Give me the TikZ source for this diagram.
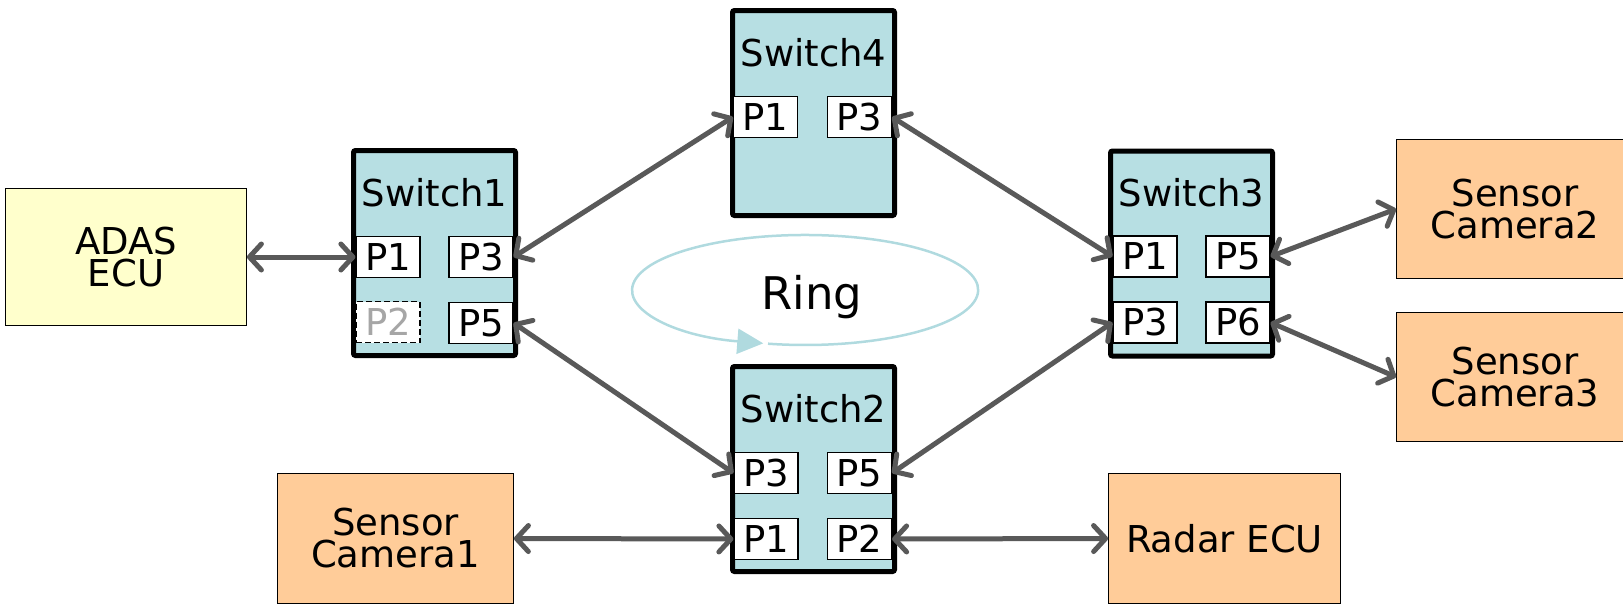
\documentclass[tikz,border=0pt]{standalone}
\usepackage{fontspec}
\setmainfont{DejaVu Sans}
\usetikzlibrary{arrows.meta,calc}
\definecolor{swfill}{RGB}{183,223,227}
\definecolor{sensorfill}{RGB}{255,204,153}
\definecolor{ecufill}{RGB}{255,255,204}
\definecolor{linkgray}{RGB}{89,89,89}
\definecolor{ringcol}{RGB}{176,218,223}
\definecolor{portgray}{RGB}{166,166,166}

\begin{document}
\begin{tikzpicture}[x=1pt,y=-1pt,
  txt/.style={font=\fontsize{37}{32}\selectfont},
  switchbox/.style={draw=black, line width=5pt, fill=swfill, rounded corners=2pt,
    minimum width=162pt, minimum height=205pt, inner sep=0pt},
  title/.style={txt, anchor=base, inner sep=0pt},
  port/.style={txt, draw=black, line width=1.2pt, fill=white,
    minimum width=64pt, minimum height=41pt, inner sep=0pt},
  deadport/.style={port, dash pattern=on 6pt off 3pt, text=portgray},
  device/.style={txt, draw=black, line width=1.3pt, align=center, inner sep=0pt},
  sensor/.style={device, fill=sensorfill},
  ecu/.style={device, fill=ecufill},
  barb/.tip={Straight Barb[length=12pt,width=26pt,round]},
  link/.style={draw=linkgray, line width=5pt, barb-barb},
  ringline/.style={draw=ringcol, line width=2.5pt}
]
\useasboundingbox (0,0) rectangle (1623,605);
\clip (0,0) rectangle (1623,605);

% end devices
\node[ecu, minimum width=240.5pt, minimum height=136.5pt] (adas) at (126,257) {ADAS\\ECU};
\node[sensor, minimum width=235.5pt, minimum height=129.5pt] (cam1) at (395.5,538.5) {Sensor\\Camera1};
\node[sensor, minimum width=231.5pt, minimum height=129.5pt] (radar) at (1224.5,538.5) {Radar ECU};
\node[sensor, minimum width=236.5pt, minimum height=138.5pt] (cam2) at (1515,209) {Sensor\\Camera2};
\node[sensor, minimum width=236.5pt, minimum height=128.5pt] (cam3) at (1515,377) {Sensor\\Camera3};

% switches with their ports
\node[switchbox] (s1) at (434.5,253) {};
\node[title] at ($(s1.north)+(0,58)$) {Switch1};
\node[port]     (s1p1) at ($(s1.north)+(-46.5,109)$) {P1};
\node[port]     (s1p3) at ($(s1.north)+(46.5,109)$) {P3};
\node[deadport] (s1p2) at ($(s1.north)+(-46.5,174)$) {P2};
\node[port]     (s1p5) at ($(s1.north)+(46.5,175)$) {P5};

\node[switchbox] (s4) at (813.5,113) {};
\node[title] at ($(s4.north)+(0,58)$) {Switch4};
\node[port] (s4p1) at ($(s4.north)+(-48,109)$) {P1};
\node[port] (s4p3) at ($(s4.north)+(46,109)$) {P3};

\node[switchbox] (s3) at (1191.5,253.5) {};
\node[title] at ($(s3.north)+(0,58)$) {Switch3};
\node[port] (s3p1) at ($(s3.north)+(-46.5,108)$) {P1};
\node[port] (s3p5) at ($(s3.north)+(46.5,108)$) {P5};
\node[port] (s3p3) at ($(s3.north)+(-46.5,174)$) {P3};
\node[port] (s3p6) at ($(s3.north)+(46.5,174)$) {P6};

\node[switchbox] (s2) at (813.5,469) {};
\node[title] at ($(s2.north)+(0,58)$) {Switch2};
\node[port] (s2p3) at ($(s2.north)+(-47.5,109)$) {P3};
\node[port] (s2p5) at ($(s2.north)+(46,109)$) {P5};
\node[port] (s2p1) at ($(s2.north)+(-47.5,175)$) {P1};
\node[port] (s2p2) at ($(s2.north)+(46,175)$) {P2};

% ring direction marker
\coordinate (ringc) at (805,290);
\node[font=\fontsize{45}{50}\selectfont] (ring) at (812,297) {Ring};
\draw[ringline, -{Triangle[length=26pt,width=25pt]}]
  ($(ringc)+(-37,53.7)$) arc[start angle=102.4, end angle=-256, x radius=173, y radius=55];

% links
\draw[link] (adas.east) -- (s1p1.west);
\draw[link] (s1p3.east) -- (s4p1.west);
\draw[link] (s1p5.east) -- (s2p3.west);
\draw[link] (s4p3.east) -- (s3p1.west);
\draw[link] (s2p5.east) -- (s3p3.west);
\draw[link] (s3p5.east) -- (cam2.west);
\draw[link] (s3p6.east) -- (cam3.west);
\draw[link] (cam1.east) -- (s2p1.west);
\draw[link] (s2p2.east) -- (radar.west);
\end{tikzpicture}
\end{document}
